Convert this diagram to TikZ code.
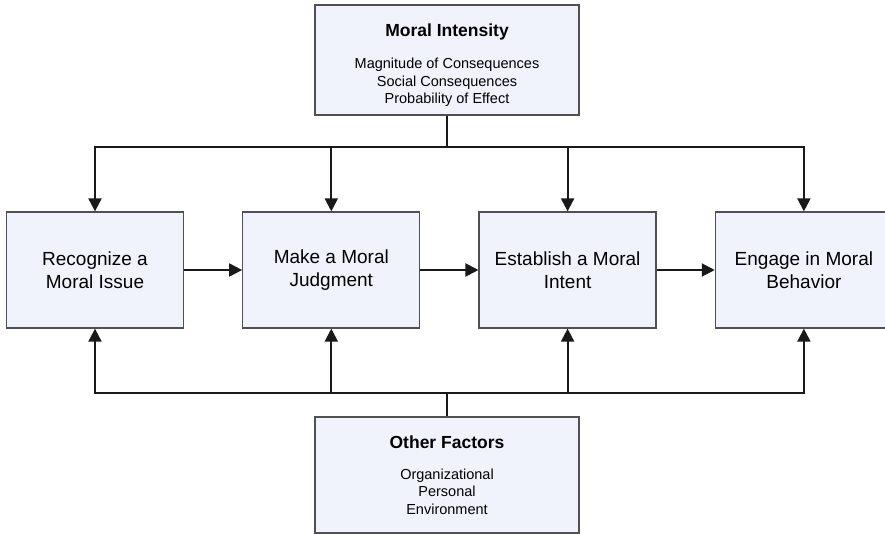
\documentclass[tikz,border=0pt]{standalone}
\usepackage{fontspec}
\setmainfont{Liberation Sans}
\usetikzlibrary{positioning,arrows.meta}
\definecolor{boxfill}{RGB}{240,243,252}
\definecolor{boxline}{RGB}{80,80,80}
\tikzset{
x=1pt, y=-1pt,
>={Triangle[length=13pt,width=13pt]},
link/.style={line width=2pt, draw=black!90},
stage/.style={draw=boxline, line width=1.3pt, fill=boxfill,
  minimum width=177pt, minimum height=116pt, align=center,
  font=\fontsize{19}{23}\selectfont},
factor/.style={draw=boxline, line width=1.3pt, fill=boxfill,
  minimum width=264pt, align=center,
  font=\fontsize{14.5}{17.5}\selectfont},
node distance=58pt,
}

\begin{document}
\begin{tikzpicture}
        \useasboundingbox (0,0) rectangle (885,534);
        \node[factor,minimum height=110pt] (mi) at (447,60)
          {\mbox{}\\[6pt]{\fontsize{17.5}{20}\selectfont\bfseries Moral Intensity}\\[15pt]
           Magnitude of Consequences\\Social Consequences\\Probability of Effect};
        \node[stage] (s1) at (95,270) {Recognize a\\Moral Issue};
        \node[stage,right=of s1] (s2) {Make a Moral\\Judgment};
        \node[stage,right=of s2] (s3) {Establish a Moral\\Intent};
        \node[stage,right=of s3] (s4) {Engage in Moral\\Behavior};
        \node[factor,minimum height=116pt] (of) at (447,475)
          {{\fontsize{17.5}{20}\selectfont\bfseries Other Factors}\\[13pt]
           Organizational\\Personal\\Environment};

        \draw[link] (mi.south) -- ++(0,31) coordinate (hubtop);
        \draw[link] (of.north) -- ++(0,-23) coordinate (hubbot);
        \foreach \i in {1,...,4}{
          \draw[link,->] (hubtop) -| (s\i.north);
          \draw[link,->] (hubbot) -| (s\i.south);
        }
        \foreach \i/\j in {1/2,2/3,3/4}
          \draw[link,->] (s\i) -- (s\j);
    \end{tikzpicture}
\end{document}
